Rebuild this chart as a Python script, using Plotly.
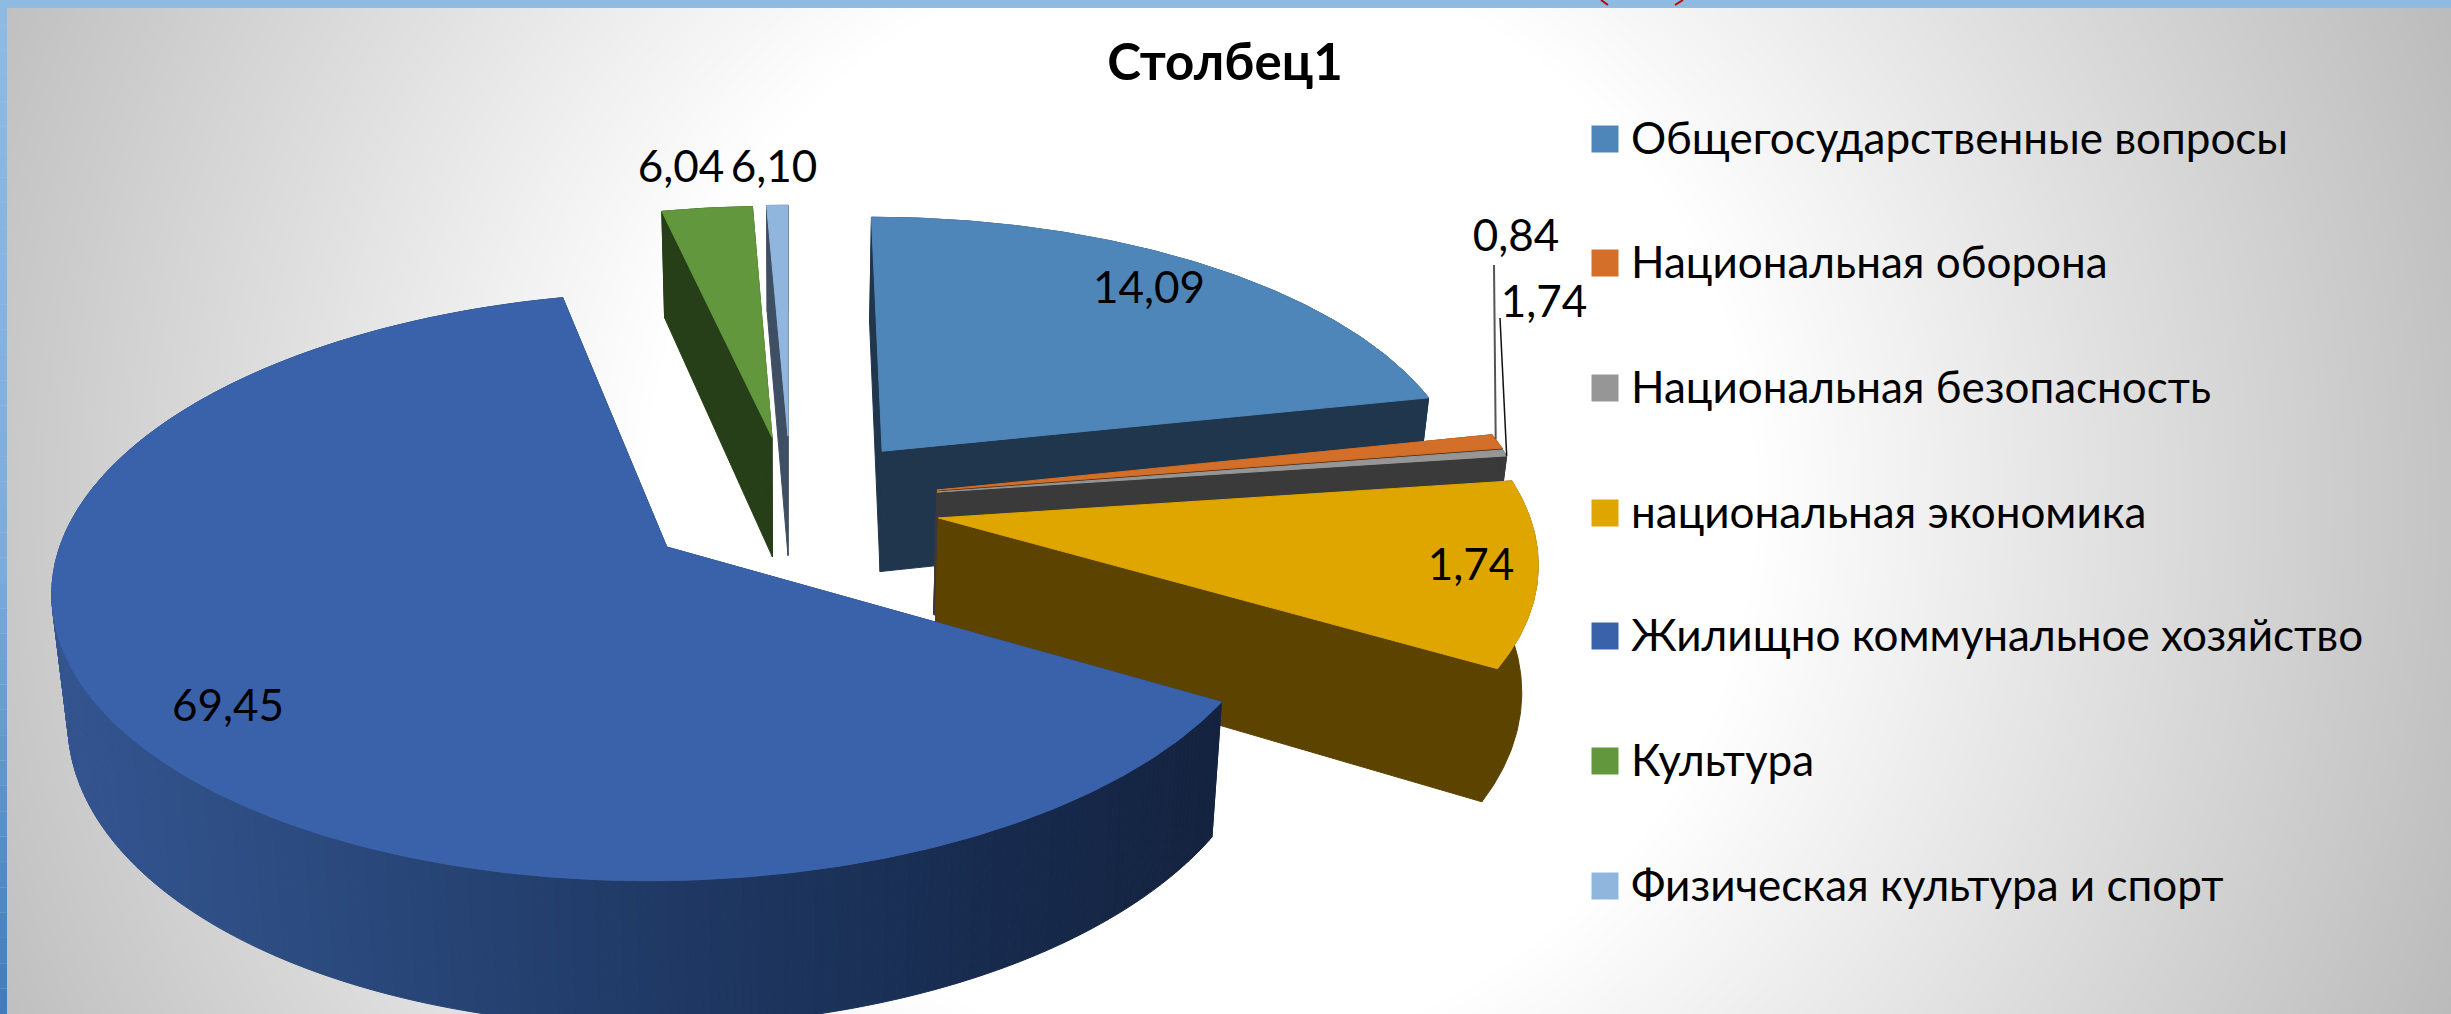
import numpy as np
import plotly.graph_objects as go

# ---------- data ----------
categories = ["Общегосударственные вопросы", "Национальная оборона", "Национальная безопасность",
              "национальная экономика", "Жилищно коммунальное хозяйство", "Культура",
              "Физическая культура и спорт"]
label_values = [14.09, 0.84, 1.74, 1.74, 69.45, 6.04, 6.10]      # printed labels
drawn_shares = [21.67, 0.83, 0.36, 10.48, 63.12, 2.86, 0.67]     # slice sizes
chart_title = "Столбец1"

# ---------- styles ----------
top_colors = ["#4f86ba", "#d36f28", "#969696", "#dfa600", "#3a62aa", "#62973d", "#91b6de"]
side_colors = ["#1f364d", "#5e3516", "#3a3a3a", "#5c4300", "#1c2f55", "#273f18", "#3f4f63"]
FONT = "Lato, 'Noto Sans', sans-serif"
W, H = 2451, 1014

# ---------- projection of the pie plane ----------
XV, Y0, A, B, K, DEPTH, SHRINK = 788, 547, 612, 289, 0.134, 126, 0.978
explode_uv = [(.161, .347), (.25, .2024), (.25, .1953), (.249, .102), (-.198, 0), (-.0275, .40), (0, .405)]
radius_u = [.985, .985, .985, .98, .992, .985, .985]
draw_order = [0, 6, 5, 1, 2, 3, 4]


def project(U, V, bottom=False):
    U, V = np.asarray(U, float), np.asarray(V, float)
    s = 1 / (1 + K * V)
    x = XV + A * U * s
    y = Y0 - B * V * s
    if bottom:
        x = XV + (x - XV) * SHRINK
        y = y + DEPTH * s
    return x, y


shares = np.array(drawn_shares) / sum(drawn_shares)
ends = np.cumsum(shares) * 2 * np.pi
starts = ends - shares * 2 * np.pi

fig = go.Figure()

# background glow
gx = np.arange(0, W + 12, 12)
gy = np.arange(0, H + 12, 12)
XX, YY = np.meshgrid(gx, gy)
dist = np.hypot(XX - 1200, YY - 500)
glow = np.clip(255 - (dist - 550) * 0.085, 170, 255)
fig.add_trace(go.Heatmap(x=gx, y=gy, z=glow, zmin=0, zmax=255, zsmooth="best", showscale=False,
                         colorscale=[[0, "rgb(0,0,0)"], [1, "rgb(255,255,255)"]], hoverinfo="skip"))


def poly(xs, ys, color, name=None):
    fig.add_trace(go.Scatter(x=xs, y=ys, mode="lines", fill="toself", fillcolor=color,
                             line=dict(color=color, width=1), showlegend=False,
                             hoverinfo="skip" if name is None else "name", name=name or ""))


def mix(stops, xv):
    xs = [p[0] for p in stops]
    rgb = [np.interp(xv, xs, [p[1][i] for p in stops]) for i in range(3)]
    return "rgb(%d,%d,%d)" % tuple(int(round(c)) for c in rgb)


blue_wall = [(60, (52, 85, 145)), (300, (44, 75, 128)), (650, (32, 58, 102)),
             (1000, (23, 42, 77)), (1214, (20, 35, 63))]

for i in draw_order:
    a0, a1 = starts[i], ends[i]
    uc, vc = explode_uv[i]
    th = np.linspace(a0, a1, max(6, int(np.degrees(a1 - a0) * 1.5)))
    U = uc + radius_u[i] * np.sin(th)
    V = vc + np.cos(th)
    xt, yt = project(U, V)
    xb, yb = project(U, V, True)
    ax, ay = project([uc], [vc])
    bx, by = project([uc], [vc], True)
    # radial walls
    poly([ax[0], xt[0], xb[0], bx[0], ax[0]], [ay[0], yt[0], yb[0], by[0], ay[0]], side_colors[i])
    poly([ax[0], xt[-1], xb[-1], bx[0], ax[0]], [ay[0], yt[-1], yb[-1], by[0], ay[0]], side_colors[i])
    # rim wall
    if i == 4:
        for j in range(len(th) - 1):
            col = mix(blue_wall, (xb[j] + xb[j + 1]) / 2)
            poly([xt[j], xt[j + 1], xb[j + 1], xb[j], xt[j]], [yt[j], yt[j + 1], yb[j + 1], yb[j], yt[j]], col)
    else:
        poly(list(xt) + list(xb[::-1]) + [xt[0]], list(yt) + list(yb[::-1]) + [yt[0]], side_colors[i])
    # top face
    poly([ax[0]] + list(xt) + [ax[0]], [ay[0]] + list(yt) + [ay[0]], top_colors[i], categories[i])

# leader lines from the thin slices to their labels
for i, frac, (lx, ly, col, wd) in [(1, 0.35, (1494, 265, "#555555", 2)), (2, 1.0, (1500, 318, "#111111", 1.5))]:
    th_l = starts[i] + frac * (ends[i] - starts[i])
    px, py = project([explode_uv[i][0] + radius_u[i] * np.sin(th_l)],
                     [explode_uv[i][1] + np.cos(th_l)])
    fig.add_trace(go.Scatter(x=[px[0], lx], y=[py[0], ly], mode="lines", showlegend=False,
                             line=dict(color=col, width=wd), hoverinfo="skip"))

# data labels
label_x = [1149, 1516, 1544, 1471, 228, 681, 774]
label_y = [292, 240, 306, 569, 710, 171, 171]
fig.add_trace(go.Scatter(x=label_x, y=label_y, mode="text",
                         text=[f"{v:.2f}".replace(".", ",") for v in label_values],
                         textposition="middle center", textfont=dict(family=FONT, size=44, color="black"),
                         showlegend=False, hoverinfo="skip"))

# legend
legend_y = [139, 263, 388, 513, 636, 761, 886]
legend_text_y = [143, 267, 392, 517, 640, 765, 890]
fig.add_trace(go.Scatter(x=[1605] * 7, y=legend_y, mode="markers", showlegend=False, hoverinfo="skip",
                         marker=dict(symbol="square", size=27, color=top_colors, line=dict(width=0))))
fig.add_trace(go.Scatter(x=[1631] * 7, y=legend_text_y, mode="text", text=categories, textposition="middle right",
                         textfont=dict(family=FONT, size=44, color="black"), showlegend=False, hoverinfo="skip"))

# window frame
shapes = [dict(type="rect", x0=0, x1=W, y0=0, y1=7, fillcolor="#8fbbe3", line_width=0),
          dict(type="rect", x0=7, x1=W, y0=7, y1=8, fillcolor="#b4b4b4", line_width=0)]
for n in range(40):
    t = n / 39
    shapes.append(dict(type="rect", x0=0, x1=7, y0=n * H / 40, y1=(n + 1) * H / 40, line_width=0,
                       fillcolor=mix([(0, (143, 187, 227)), (.55, (125, 172, 220)), (1, (64, 125, 190))], t)))
for (x0, x1) in [(1601, 1608), (1683, 1675)]:
    shapes.append(dict(type="line", x0=x0, x1=x1, y0=0, y1=5, line=dict(color="#c00000", width=2)))

fig.update_layout(
    width=W, height=H, margin=dict(l=0, r=0, t=0, b=0), showlegend=False,
    paper_bgcolor="white", plot_bgcolor="white", shapes=shapes,
    title=dict(text=f"<b>{chart_title}</b>", x=1225 / W, y=1 - 62 / H, xanchor="center", yanchor="middle",
               font=dict(family=FONT, size=51, color="black")),
    xaxis=dict(range=[0, W], visible=False, fixedrange=True),
    yaxis=dict(range=[H, 0], visible=False, fixedrange=True),
)
fig.write_html("out.html", config=dict(displayModeBar=False),
               post_script="document.body.style.margin='0';document.body.style.overflow='hidden';")
